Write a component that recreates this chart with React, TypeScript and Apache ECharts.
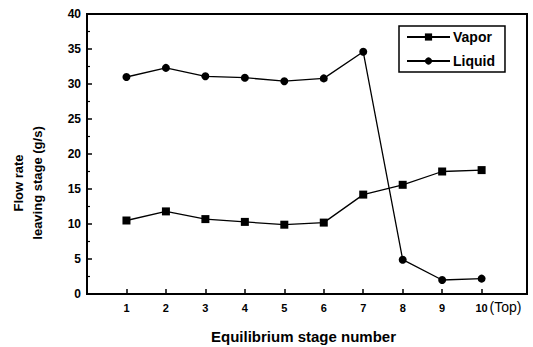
import React, { useEffect, useRef } from "react";
import * as echarts from "echarts";

const stages = [1, 2, 3, 4, 5, 6, 7, 8, 9, 10];
const vapor = [10.5, 11.8, 10.7, 10.3, 9.9, 10.2, 14.2, 15.6, 17.5, 17.7];
const liquid = [31.0, 32.3, 31.1, 30.9, 30.4, 30.8, 34.6, 4.9, 2.0, 2.2];
const yTicks = [0, 5, 10, 15, 20, 25, 30, 35, 40];

const FONT = "'Liberation Sans', Arial, Helvetica, sans-serif";

export default function App() {
  const ref = useRef<HTMLDivElement>(null);
  useEffect(() => {
    if (!ref.current) return;
    const chart = echarts.init(ref.current, undefined, { renderer: "svg" });
    const mk = (vals: number[]) => stages.map((s, i) => [s, vals[i]]);
    chart.setOption({
      animation: false,
      backgroundColor: "#fff",
      textStyle: { fontFamily: FONT },
      grid: {
        left: 87,
        top: 14,
        right: 6,
        bottom: 53,
        outerBoundsMode: "none",
        containLabel: false,
        show: true,
        borderColor: "#000",
        borderWidth: 2,
        backgroundColor: "transparent",
      },
      legend: {
        left: 399,
        top: 26,
        orient: "vertical",
        borderColor: "#000",
        borderWidth: 1.5,
        padding: [4, 10, 4, 7],
        itemWidth: 43,
        itemHeight: 9,
        itemGap: 10,
        textStyle: { fontFamily: FONT, fontWeight: "bold", fontSize: 14, color: "#000", padding: [0, 0, 0, -2] },
        data: ["Vapor", "Liquid"],
      },
      xAxis: {
        type: "value",
        min: 0,
        max: 11.15,
        interval: 1,
        splitLine: { show: false },
        axisLine: { show: true, lineStyle: { color: "#000", width: 2 } },
        axisTick: { show: true, inside: true, length: 5, lineStyle: { color: "#000", width: 1.5 }, customValues: stages },
        axisLabel: {
          customValues: stages,
          color: "#000",
          fontWeight: "bold",
          fontSize: 11,
          fontFamily: FONT,
          margin: 8,
          formatter: (v: number) => String(v),
        },
        name: "Equilibrium stage number",
        nameLocation: "middle",
        nameGap: 35,
        nameTextStyle: { color: "#000", fontWeight: "bold", fontSize: 15, fontFamily: FONT, padding: [0, 0, 0, -7] },
      },
      yAxis: {
        type: "value",
        min: 0,
        max: 40,
        interval: 5,
        splitLine: { show: false },
        axisLine: { show: true, lineStyle: { color: "#000", width: 2 } },
        axisTick: { show: true, inside: true, length: 5, lineStyle: { color: "#000", width: 1.5 } },
        minorTick: { show: true, splitNumber: 2, length: 3, lineStyle: { color: "#000", width: 1.2 } },
        axisLabel: {
          color: "#000",
          fontWeight: "bold",
          fontSize: 12,
          fontFamily: FONT,
          margin: 6,
          formatter: (v: number) => (yTicks.includes(v) ? String(v) : ""),
        },
      },
      series: [
        {
          name: "Vapor",
          type: "line",
          data: mk(vapor),
          symbol: "rect",
          symbolSize: 8,
          lineStyle: { color: "#000", width: 1.3 },
          itemStyle: { color: "#000" },
        },
        {
          name: "Liquid",
          type: "line",
          data: mk(liquid),
          symbol: "circle",
          symbolSize: 8,
          lineStyle: { color: "#000", width: 1.3 },
          itemStyle: { color: "#000" },
        },
      ],
    });
    const p = chart.convertToPixel({ xAxisIndex: 0, yAxisIndex: 0 }, [10, 0]) as number[];
    chart.setOption({
      graphic: [
        {
          id: "yt1",
          type: "text",
          x: 18,
          y: 183,
          rotation: Math.PI / 2,
          style: {
            text: "Flow rate",
            fill: "#000",
            font: `bold 13px ${FONT}`,
            align: "center",
            verticalAlign: "middle",
          },
        },
        {
          id: "yt2",
          type: "text",
          x: 37,
          y: 183,
          rotation: Math.PI / 2,
          style: {
            text: "leaving stage (g/s)",
            fill: "#000",
            font: `bold 13px ${FONT}`,
            align: "center",
            verticalAlign: "middle",
          },
        },
        {
          id: "top",
          type: "text",
          x: p[0] + 8,
          y: p[1] + 13,
          style: {
            text: "(Top)",
            fill: "#000",
            font: `14px ${FONT}`,
            align: "left",
            verticalAlign: "middle",
          },
        },
      ],
    });
    return () => chart.dispose();
  }, []);
  return <div ref={ref} style={{ width: 533, height: 347, position: "absolute", left: 0, top: 0 }} />;
}
